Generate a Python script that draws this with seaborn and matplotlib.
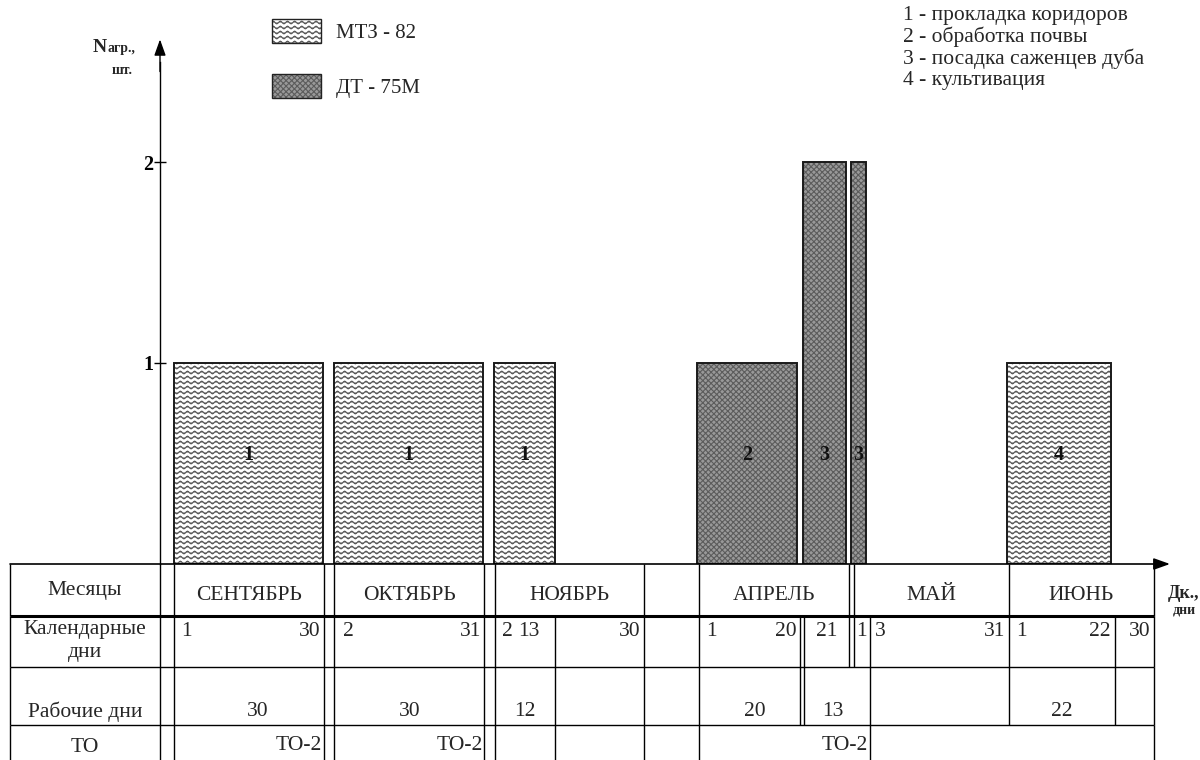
import warnings
import numpy as np
import pandas as pd
import matplotlib
matplotlib.use('Agg')
import matplotlib.pyplot as plt
import matplotlib.hatch as mhatch
from matplotlib.path import Path
from matplotlib.patches import Patch
from matplotlib.legend_handler import HandlerTuple
import seaborn as sns

warnings.filterwarnings('ignore')

# ---- data ----
# bars: start / end on the schematic day axis (about 1 unit per day, gaps between months)
bar_start = [34.8, 66.8, 98.8, 139.4, 160.6, 170.2, 201.4]
bar_end = [64.6, 96.6, 111.0, 159.3, 169.1, 173.1, 222.2]
bar_count = [1, 1, 1, 1, 2, 2, 1]
bar_tractor = ['МТЗ - 82', 'МТЗ - 82', 'МТЗ - 82', 'ДТ - 75М', 'ДТ - 75М', 'ДТ - 75М', 'МТЗ - 82']
bar_operation = [1, 1, 1, 2, 3, 3, 4]

operations = ['1 - прокладка коридоров', '2 - обработка почвы',
              '3 - посадка саженцев дуба', '4 - культивация']

months = ['СЕНТЯБРЬ', 'ОКТЯБРЬ', 'НОЯБРЬ', 'АПРЕЛЬ', 'МАЙ', 'ИЮНЬ']
month_left = [34.8, 66.8, 99.0, 139.8, 170.8, 201.8]
month_right = [64.8, 96.8, 128.8, 169.8, 201.8, 230.8]

cal_days = ['1', '30', '2', '31', '2', '13', '30', '1', '20', '21', '1', '3', '31', '1', '22', '30']
cal_pos = [36.2, 64.0, 68.6, 96.2, 100.4, 103.6, 128.2, 141.2, 159.4, 165.4, 172.3, 175.0, 201.0, 203.2, 222.2, 228.0]
cal_ha = ['left', 'right', 'left', 'right', 'left', 'left', 'right', 'left', 'right',
          'center', 'center', 'left', 'right', 'left', 'right', 'center']

work_days = [30, 30, 12, 20, 13, 22]
work_pos = [51.6, 82.0, 105.0, 151.0, 166.6, 212.4]

to_labels = ['ТО-2', 'ТО-2', 'ТО-2']
to_pos = [64.4, 96.6, 173.6]

row_names = ['Месяцы', 'Календарные\nдни', 'Рабочие дни', 'ТО']

# table grid: vertical lines in every row, and row borders (table units, from the top)
month_cols = [2, 32, 34.8, 64.8, 66.8, 96.8, 99, 128.8, 139.8, 169.8, 170.8, 201.8, 230.8]
cal_cols = [2, 32, 34.8, 64.8, 66.8, 96.8, 99, 111, 128.8, 139.8, 160, 160.8,
            169.8, 170.8, 174, 201.8, 223, 230.8]
work_cols = [2, 32, 34.8, 64.8, 66.8, 96.8, 99, 111, 128.8, 139.8, 160, 160.8, 174, 201.8, 223, 230.8]
to_cols = [2, 32, 34.8, 64.8, 66.8, 96.8, 99, 111, 128.8, 139.8, 174, 230.8]
row_edges = [0, 52, 103, 161, 200]
row_text_y = [27, 77, 148, 184]


# wavy fill of the МТЗ-82 bars, registered as hatch '~'
class WaveHatch(mhatch.HatchPatternBase):
    def __init__(self, hatch, density):
        self.num_rows = int(round(hatch.count('~') * density * 10 / 9))
        self.num_steps = 14 * 8
        self.num_vertices = self.num_rows * (self.num_steps + 1)

    def set_vertices_and_codes(self, vertices, codes):
        ys = (np.arange(self.num_rows) + 0.5) / self.num_rows
        xs = np.linspace(0.0, 1.0, self.num_steps + 1)
        amp = 0.27 / self.num_rows
        off = amp * np.sin(2 * np.pi * 14 * xs)
        vertices[:, 0] = np.tile(xs, self.num_rows)
        vertices[:, 1] = (ys[:, None] + off[None, :]).ravel()
        codes[:] = Path.LINETO
        codes[::self.num_steps + 1] = Path.MOVETO


mhatch._hatch_types.append(WaveHatch)

sns.set_theme(style='white')
plt.rcParams['font.family'] = ['Liberation Serif', 'DejaVu Serif']
plt.rcParams['hatch.linewidth'] = 0.8

styles = {
    'МТЗ - 82': dict(face='white', hatch='~~~', hcol='#555555'),
    'ДТ - 75М': dict(face='#999999', hatch='xxxxxx', hcol='#5c5c5c'),
}

fig = plt.figure(figsize=(12, 7.6), dpi=100)
ax = fig.add_axes([0, 196 / 760, 1, 564 / 760])
ax.set_xlim(0, 240)
ax.set_ylim(0, 564 / 201)

df = pd.DataFrame({'start': bar_start, 'end': bar_end, 'count': bar_count,
                   'tractor': bar_tractor, 'op': bar_operation})
df['width'] = df['end'] - df['start']

for tr, grp in df.groupby('tractor'):
    st = styles[tr]
    ax.bar(grp['start'], grp['count'], width=grp['width'], align='edge',
           color=st['face'], lw=0)
    ax.bar(grp['start'], grp['count'], width=grp['width'], align='edge',
           color='none', edgecolor=st['hcol'], hatch=st['hatch'], lw=0)
    ax.bar(grp['start'], grp['count'], width=grp['width'], align='edge',
           fill=False, edgecolor='#1a1a1a', lw=1.4)

for _, r in df.iterrows():
    ax.text((r['start'] + r['end']) / 2, 0.54, str(r['op']), ha='center', va='center',
            fontsize=14.5, fontweight='bold', color='#111111')

# axes
sns.despine(ax=ax, left=False, bottom=True)
ax.spines['left'].set_position(('data', 32))
ax.spines['left'].set_bounds(0, 2.5)
ax.spines['left'].set_color('black')
ax.spines['left'].set_linewidth(1.0)
ax.set_xticks([])
ax.set_yticks([1, 2])
ax.tick_params(axis='y', direction='inout', length=8, width=1, labelsize=14.5, pad=1,
               left=True, colors='black')
for lbl in ax.get_yticklabels():
    lbl.set_fontweight('bold')

ax.annotate('', xy=(32, 2.61), xytext=(32, 2.45), annotation_clip=False,
            arrowprops=dict(arrowstyle='-|>,head_length=0.7,head_width=0.25', color='black',
                            lw=1.0, shrinkA=0, shrinkB=0, mutation_scale=14))
ax.annotate('', xy=(234.0, 0), xytext=(2, 0), annotation_clip=False,
            arrowprops=dict(arrowstyle='-|>,head_length=0.7,head_width=0.25', color='black',
                            lw=1.2, shrinkA=0, shrinkB=0, mutation_scale=14, clip_on=False))

ax.text(18.6, 2.547, 'N', fontsize=14, fontweight='bold', ha='left', va='baseline')
ax.text(21.5, 2.547, 'агр.,', fontsize=10, fontweight='bold', ha='left', va='baseline')
ax.text(24.4, 2.44, 'шт.', fontsize=10, fontweight='bold', ha='center', va='baseline')

# legends
handles = []
for tr in ['МТЗ - 82', 'ДТ - 75М']:
    st = styles[tr]
    handles.append((Patch(facecolor=st['face'], edgecolor='none', lw=0),
                    Patch(facecolor='none', edgecolor=st['hcol'], hatch=st['hatch'], lw=0),
                    Patch(facecolor='none', edgecolor='#222222', lw=1.0)))
ax.legend(handles, ['МТЗ - 82', 'ДТ - 75М'], handler_map={tuple: HandlerTuple(ndivide=1)},
          loc='upper left', bbox_to_anchor=(272 / 1200, 1 - 19 / 760),
          bbox_transform=fig.transFigure, frameon=False, fontsize=15,
          handlelength=2.35, handleheight=1.4, handletextpad=0.72, labelspacing=1.5,
          borderpad=0, borderaxespad=0)

for i, op in enumerate(operations):
    fig.text(903 / 1200, 1 - (15.5 + i * 21.7) / 760, op, fontsize=15.5, va='center', ha='left')

# table under the axis
tab = fig.add_axes([0, 0, 1, 196 / 760])
tab.set_xlim(0, 240)
tab.set_ylim(196, 0)
tab.axis('off')

for i, cols in enumerate([month_cols, cal_cols, work_cols, to_cols]):
    tab.vlines(cols, row_edges[i], row_edges[i + 1], colors='black', lw=1.0)
tab.hlines(row_edges[1:4], 2, 230.8, colors='black', lw=[2.2, 1.0, 1.0])

for name, y in zip(row_names, row_text_y):
    tab.text(17, y, name, ha='center', va='center', fontsize=15.5, linespacing=1.25)

for m, l, r in zip(months, month_left, month_right):
    tab.text((l + r) / 2, 31, m, ha='center', va='center', fontsize=15.5)
for d, x, ha in zip(cal_days, cal_pos, cal_ha):
    tab.text(x, 68, d, ha=ha, va='center', fontsize=15.5)
for w, x in zip(work_days, work_pos):
    tab.text(x, 148, str(w), ha='center', va='center', fontsize=15.5)
for t, x in zip(to_labels, to_pos):
    tab.text(x, 182, t, ha='right', va='center', fontsize=15.5)

tab.text(233.6, 34, 'Дк.,', fontsize=13, fontweight='bold', ha='left', va='baseline')
tab.text(236.9, 49, 'дни', fontsize=10, fontweight='bold', ha='center', va='baseline')

fig.savefig('out.png', dpi=100)
